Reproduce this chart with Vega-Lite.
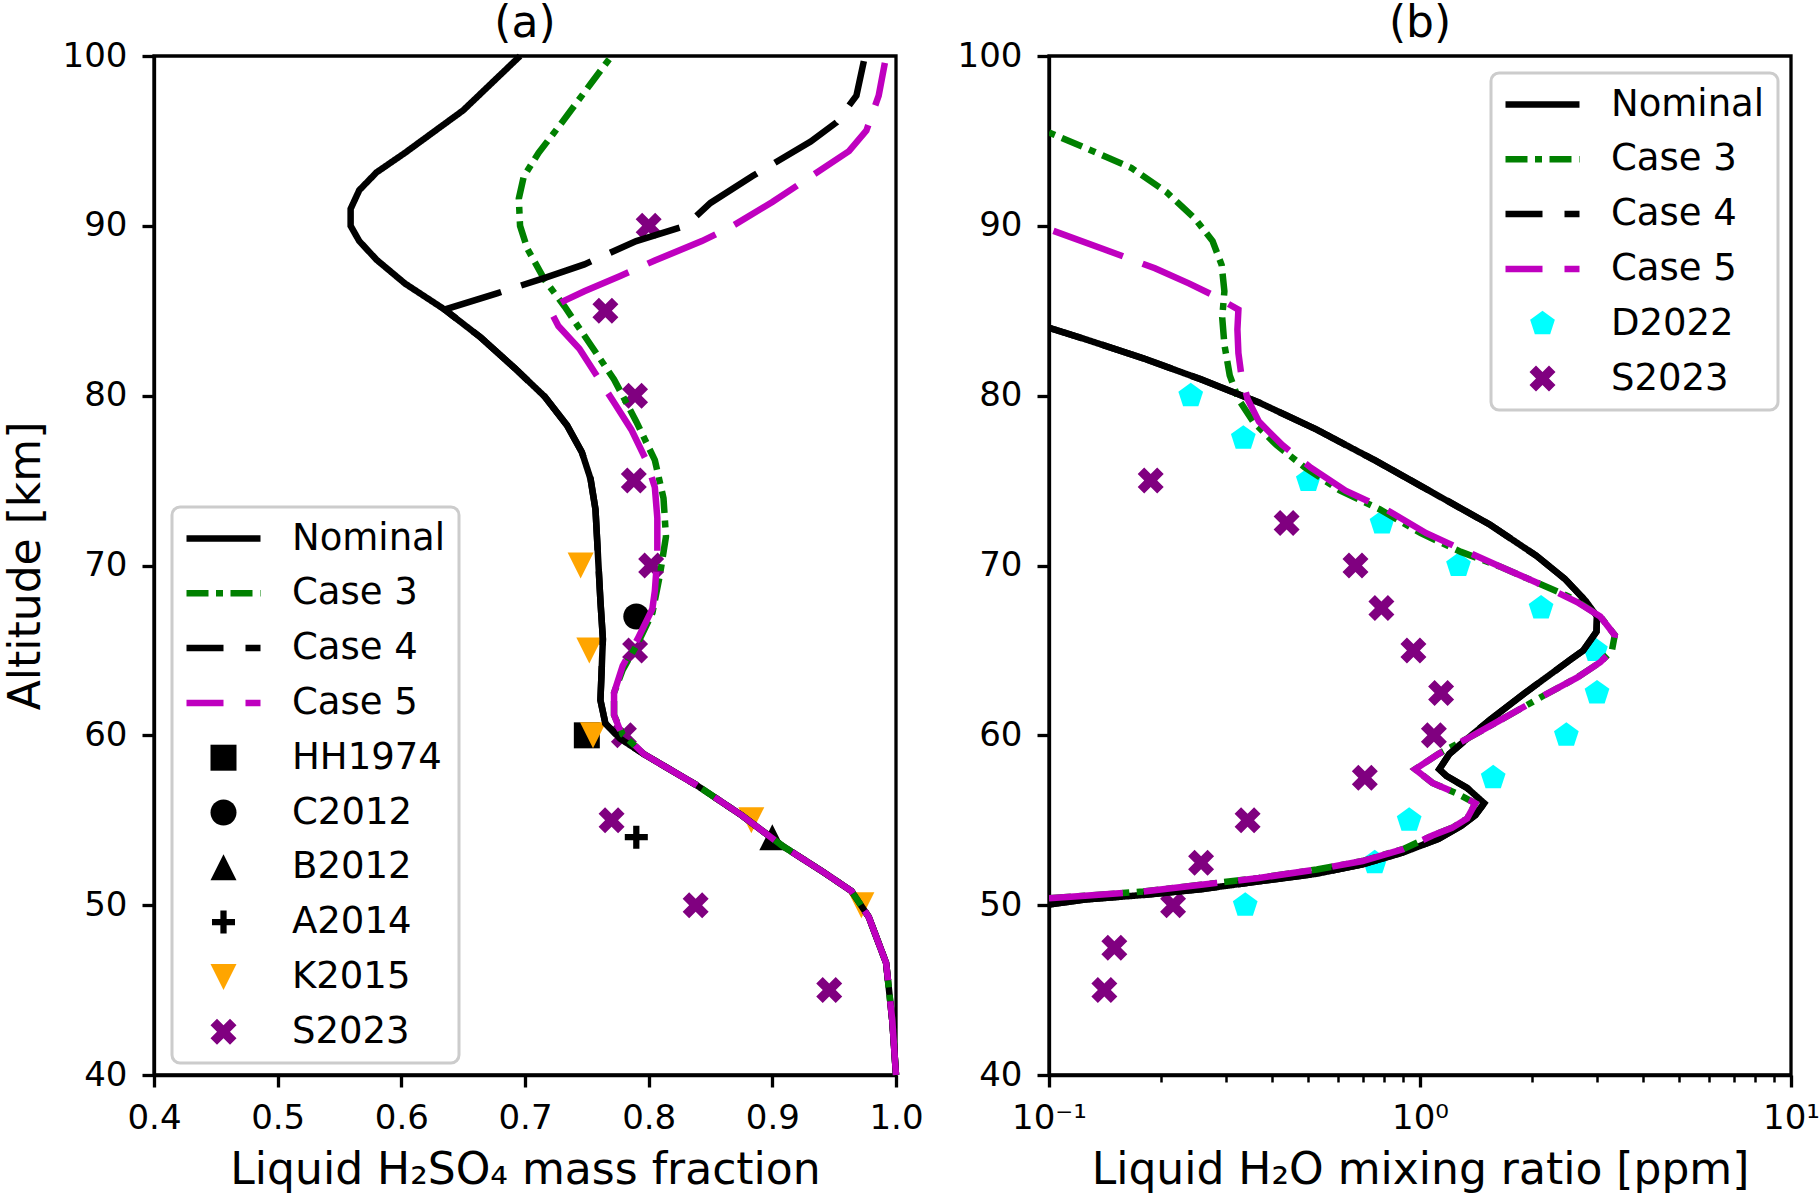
{
 "$schema": "https://vega.github.io/schema/vega-lite/v6.json",
 "padding": {"left": 2, "right": 5, "top": 0, "bottom": 0},
 "background": "white",
 "bounds": "flush",
 "spacing": 153,
 "resolve": {"scale": {"shape": "independent", "color": "independent", "strokeDash": "independent"}, "legend": {"shape": "independent", "color": "independent", "strokeDash": "independent"}},
 "config": {
  "font": "DejaVu Sans",
  "view": {"stroke": "black", "strokeWidth": 3.3},
  "axis": {"grid": false, "domainColor": "black", "domainWidth": 3.3, "tickColor": "black", "tickWidth": 3.3, "tickSize": 12, "labelFontSize": 34, "labelColor": "black", "labelPadding": 14, "titleFontSize": 44, "titleFontWeight": "normal", "titleColor": "black", "labelFont": "DejaVu Sans", "titleFont": "DejaVu Sans", "labelFlush": false},
  "title": {"fontSize": 44, "fontWeight": "normal", "color": "black", "baseline": "alphabetic", "offset": -7, "frame": "group", "font": "DejaVu Sans"},
  "legend": {"labelFontSize": 37, "labelColor": "black", "labelFont": "DejaVu Sans", "labelLimit": 0, "padding": 13, "symbolOffset": 20, "labelOffset": 50, "rowPadding": 16.8, "strokeColor": "#cccccc", "strokeWidth": 3, "fillColor": "white", "cornerRadius": 8, "symbolSize": 676, "orient": "none", "symbolOpacity": 1}
 },
 "datasets": {
  "obsA": [
   {"s": "HH1974", "x": 0.75, "y": 60},
   {"s": "C2012", "x": 0.79, "y": 67},
   {"s": "B2012", "x": 0.90, "y": 54},
   {"s": "A2014", "x": 0.79, "y": 54},
   {"s": "K2015", "x": 0.745, "y": 70},
   {"s": "K2015", "x": 0.752, "y": 65},
   {"s": "K2015", "x": 0.755, "y": 60},
   {"s": "K2015", "x": 0.883, "y": 55},
   {"s": "K2015", "x": 0.972, "y": 50},
   {"s": "S2023", "x": 0.80, "y": 90},
   {"s": "S2023", "x": 0.765, "y": 85},
   {"s": "S2023", "x": 0.789, "y": 80},
   {"s": "S2023", "x": 0.788, "y": 75},
   {"s": "S2023", "x": 0.802, "y": 70},
   {"s": "S2023", "x": 0.789, "y": 65},
   {"s": "S2023", "x": 0.780, "y": 60},
   {"s": "S2023", "x": 0.770, "y": 55},
   {"s": "S2023", "x": 0.838, "y": 50},
   {"s": "S2023", "x": 0.946, "y": 45}
  ],
  "curvesA": [
   {"s": "Nominal", "x": 0.696, "y": 100}, {"s": "Nominal", "x": 0.650, "y": 96.8}, {"s": "Nominal", "x": 0.603, "y": 94.3}, {"s": "Nominal", "x": 0.580, "y": 93.15}, {"s": "Nominal", "x": 0.566, "y": 92.1}, {"s": "Nominal", "x": 0.559, "y": 91.0}, {"s": "Nominal", "x": 0.559, "y": 90.0}, {"s": "Nominal", "x": 0.566, "y": 89.1}, {"s": "Nominal", "x": 0.580, "y": 88.0}, {"s": "Nominal", "x": 0.603, "y": 86.6}, {"s": "Nominal", "x": 0.635, "y": 85.07}, {"s": "Nominal", "x": 0.664, "y": 83.44}, {"s": "Nominal", "x": 0.692, "y": 81.6}, {"s": "Nominal", "x": 0.716, "y": 79.94}, {"s": "Nominal", "x": 0.734, "y": 78.25}, {"s": "Nominal", "x": 0.746, "y": 76.67}, {"s": "Nominal", "x": 0.753, "y": 75.1}, {"s": "Nominal", "x": 0.757, "y": 73.3}, {"s": "Nominal", "x": 0.759, "y": 70.6}, {"s": "Nominal", "x": 0.761, "y": 67.9}, {"s": "Nominal", "x": 0.763, "y": 65.66}, {"s": "Nominal", "x": 0.761, "y": 62.07}, {"s": "Nominal", "x": 0.765, "y": 60.7}, {"s": "Nominal", "x": 0.777, "y": 59.8}, {"s": "Nominal", "x": 0.796, "y": 58.9}, {"s": "Nominal", "x": 0.838, "y": 57.1}, {"s": "Nominal", "x": 0.875, "y": 55.3}, {"s": "Nominal", "x": 0.908, "y": 53.5}, {"s": "Nominal", "x": 0.941, "y": 51.96}, {"s": "Nominal", "x": 0.964, "y": 50.83}, {"s": "Nominal", "x": 0.978, "y": 49.3}, {"s": "Nominal", "x": 0.992, "y": 46.6}, {"s": "Nominal", "x": 0.997, "y": 43.2}, {"s": "Nominal", "x": 1.0, "y": 40},
   {"s": "Case 3", "x": 0.770, "y": 100}, {"s": "Case 3", "x": 0.753, "y": 98.35}, {"s": "Case 3", "x": 0.730, "y": 96.1}, {"s": "Case 3", "x": 0.711, "y": 94.3}, {"s": "Case 3", "x": 0.699, "y": 92.9}, {"s": "Case 3", "x": 0.695, "y": 91.6}, {"s": "Case 3", "x": 0.696, "y": 90.0}, {"s": "Case 3", "x": 0.702, "y": 88.64}, {"s": "Case 3", "x": 0.716, "y": 86.8}, {"s": "Case 3", "x": 0.732, "y": 85.25}, {"s": "Case 3", "x": 0.753, "y": 83.0}, {"s": "Case 3", "x": 0.772, "y": 80.96}, {"s": "Case 3", "x": 0.790, "y": 78.47}, {"s": "Case 3", "x": 0.805, "y": 76.2}, {"s": "Case 3", "x": 0.812, "y": 73.96}, {"s": "Case 3", "x": 0.814, "y": 71.7}, {"s": "Case 3", "x": 0.809, "y": 69.4}, {"s": "Case 3", "x": 0.803, "y": 67.2}, {"s": "Case 3", "x": 0.791, "y": 65.4}, {"s": "Case 3", "x": 0.779, "y": 63.86}, {"s": "Case 3", "x": 0.772, "y": 62.5}, {"s": "Case 3", "x": 0.772, "y": 61.2}, {"s": "Case 3", "x": 0.779, "y": 60.04}, {"s": "Case 3", "x": 0.796, "y": 58.9}, {"s": "Case 3", "x": 0.838, "y": 57.1}, {"s": "Case 3", "x": 0.875, "y": 55.3}, {"s": "Case 3", "x": 0.908, "y": 53.5}, {"s": "Case 3", "x": 0.941, "y": 51.96}, {"s": "Case 3", "x": 0.964, "y": 50.83}, {"s": "Case 3", "x": 0.978, "y": 49.3}, {"s": "Case 3", "x": 0.992, "y": 46.6}, {"s": "Case 3", "x": 0.997, "y": 43.2}, {"s": "Case 3", "x": 1.0, "y": 40},
   {"s": "Case 4", "x": 0.974, "y": 99.7}, {"s": "Case 4", "x": 0.968, "y": 97.67}, {"s": "Case 4", "x": 0.952, "y": 96.1}, {"s": "Case 4", "x": 0.931, "y": 94.96}, {"s": "Case 4", "x": 0.884, "y": 92.93}, {"s": "Case 4", "x": 0.850, "y": 91.35}, {"s": "Case 4", "x": 0.830, "y": 90.0}, {"s": "Case 4", "x": 0.790, "y": 89.1}, {"s": "Case 4", "x": 0.748, "y": 87.73}, {"s": "Case 4", "x": 0.716, "y": 86.94}, {"s": "Case 4", "x": 0.678, "y": 86.04}, {"s": "Case 4", "x": 0.635, "y": 85.07}, {"s": "Case 4", "x": 0.664, "y": 83.44}, {"s": "Case 4", "x": 0.692, "y": 81.6}, {"s": "Case 4", "x": 0.716, "y": 79.94}, {"s": "Case 4", "x": 0.734, "y": 78.25}, {"s": "Case 4", "x": 0.746, "y": 76.67}, {"s": "Case 4", "x": 0.753, "y": 75.1}, {"s": "Case 4", "x": 0.757, "y": 73.3}, {"s": "Case 4", "x": 0.759, "y": 70.6}, {"s": "Case 4", "x": 0.761, "y": 67.9}, {"s": "Case 4", "x": 0.763, "y": 65.66}, {"s": "Case 4", "x": 0.761, "y": 62.07}, {"s": "Case 4", "x": 0.765, "y": 60.7}, {"s": "Case 4", "x": 0.777, "y": 59.8}, {"s": "Case 4", "x": 0.796, "y": 58.9}, {"s": "Case 4", "x": 0.838, "y": 57.1}, {"s": "Case 4", "x": 0.875, "y": 55.3}, {"s": "Case 4", "x": 0.908, "y": 53.5}, {"s": "Case 4", "x": 0.941, "y": 51.96}, {"s": "Case 4", "x": 0.964, "y": 50.83}, {"s": "Case 4", "x": 0.978, "y": 49.3}, {"s": "Case 4", "x": 0.992, "y": 46.6}, {"s": "Case 4", "x": 0.997, "y": 43.2}, {"s": "Case 4", "x": 1.0, "y": 40},
   {"s": "Case 5", "x": 0.991, "y": 99.6}, {"s": "Case 5", "x": 0.986, "y": 97.67}, {"s": "Case 5", "x": 0.976, "y": 95.6}, {"s": "Case 5", "x": 0.962, "y": 94.4}, {"s": "Case 5", "x": 0.931, "y": 92.9}, {"s": "Case 5", "x": 0.900, "y": 91.4}, {"s": "Case 5", "x": 0.868, "y": 90.0}, {"s": "Case 5", "x": 0.843, "y": 89.1}, {"s": "Case 5", "x": 0.805, "y": 87.96}, {"s": "Case 5", "x": 0.777, "y": 87.05}, {"s": "Case 5", "x": 0.748, "y": 86.15}, {"s": "Case 5", "x": 0.732, "y": 85.6}, {"s": "Case 5", "x": 0.720, "y": 85.07}, {"s": "Case 5", "x": 0.727, "y": 84.1}, {"s": "Case 5", "x": 0.744, "y": 82.76}, {"s": "Case 5", "x": 0.772, "y": 79.6}, {"s": "Case 5", "x": 0.786, "y": 78.0}, {"s": "Case 5", "x": 0.798, "y": 76.2}, {"s": "Case 5", "x": 0.805, "y": 74.6}, {"s": "Case 5", "x": 0.807, "y": 72.8}, {"s": "Case 5", "x": 0.807, "y": 70.56}, {"s": "Case 5", "x": 0.805, "y": 68.5}, {"s": "Case 5", "x": 0.803, "y": 67.45}, {"s": "Case 5", "x": 0.791, "y": 65.66}, {"s": "Case 5", "x": 0.779, "y": 64.1}, {"s": "Case 5", "x": 0.772, "y": 62.5}, {"s": "Case 5", "x": 0.772, "y": 61.2}, {"s": "Case 5", "x": 0.777, "y": 60.27}, {"s": "Case 5", "x": 0.796, "y": 58.9}, {"s": "Case 5", "x": 0.838, "y": 57.1}, {"s": "Case 5", "x": 0.875, "y": 55.3}, {"s": "Case 5", "x": 0.908, "y": 53.5}, {"s": "Case 5", "x": 0.941, "y": 51.96}, {"s": "Case 5", "x": 0.964, "y": 50.83}, {"s": "Case 5", "x": 0.978, "y": 49.3}, {"s": "Case 5", "x": 0.992, "y": 46.6}, {"s": "Case 5", "x": 0.997, "y": 43.2}, {"s": "Case 5", "x": 1.0, "y": 40}
  ],
  "obsB": [
   {"s": "D2022", "x": 0.241, "y": 80}, {"s": "D2022", "x": 0.334, "y": 77.5}, {"s": "D2022", "x": 0.50, "y": 75}, {"s": "D2022", "x": 0.79, "y": 72.5}, {"s": "D2022", "x": 1.27, "y": 70}, {"s": "D2022", "x": 2.12, "y": 67.5}, {"s": "D2022", "x": 2.97, "y": 65}, {"s": "D2022", "x": 3.0, "y": 62.5}, {"s": "D2022", "x": 2.48, "y": 60}, {"s": "D2022", "x": 1.575, "y": 57.5}, {"s": "D2022", "x": 0.935, "y": 55}, {"s": "D2022", "x": 0.755, "y": 52.5}, {"s": "D2022", "x": 0.338, "y": 50},
   {"s": "S2023", "x": 0.188, "y": 75}, {"s": "S2023", "x": 0.437, "y": 72.5}, {"s": "S2023", "x": 0.67, "y": 70}, {"s": "S2023", "x": 0.787, "y": 67.5}, {"s": "S2023", "x": 0.96, "y": 65}, {"s": "S2023", "x": 1.14, "y": 62.5}, {"s": "S2023", "x": 1.09, "y": 60}, {"s": "S2023", "x": 0.71, "y": 57.5}, {"s": "S2023", "x": 0.343, "y": 55}, {"s": "S2023", "x": 0.257, "y": 52.5}, {"s": "S2023", "x": 0.216, "y": 50}, {"s": "S2023", "x": 0.150, "y": 47.5}, {"s": "S2023", "x": 0.141, "y": 45}
  ],
  "curvesB": [
   {"s": "Nominal", "x": 0.1, "y": 84.0}, {"s": "Nominal", "x": 0.125, "y": 83.33}, {"s": "Nominal", "x": 0.1795, "y": 82.2}, {"s": "Nominal", "x": 0.257, "y": 80.96}, {"s": "Nominal", "x": 0.368, "y": 79.6}, {"s": "Nominal", "x": 0.527, "y": 78.0}, {"s": "Nominal", "x": 0.755, "y": 76.2}, {"s": "Nominal", "x": 1.08, "y": 74.3}, {"s": "Nominal", "x": 1.545, "y": 72.4}, {"s": "Nominal", "x": 2.06, "y": 70.57}, {"s": "Nominal", "x": 2.46, "y": 69.2}, {"s": "Nominal", "x": 2.80, "y": 67.9}, {"s": "Nominal", "x": 3.0, "y": 67.0}, {"s": "Nominal", "x": 2.99, "y": 66.1}, {"s": "Nominal", "x": 2.75, "y": 64.98}, {"s": "Nominal", "x": 2.56, "y": 64.5}, {"s": "Nominal", "x": 1.92, "y": 62.5}, {"s": "Nominal", "x": 1.55, "y": 60.94}, {"s": "Nominal", "x": 1.34, "y": 59.8}, {"s": "Nominal", "x": 1.20, "y": 58.9}, {"s": "Nominal", "x": 1.127, "y": 58.0}, {"s": "Nominal", "x": 1.18, "y": 57.6}, {"s": "Nominal", "x": 1.34, "y": 56.9}, {"s": "Nominal", "x": 1.49, "y": 56.0}, {"s": "Nominal", "x": 1.41, "y": 55.3}, {"s": "Nominal", "x": 1.29, "y": 54.66}, {"s": "Nominal", "x": 1.12, "y": 53.9}, {"s": "Nominal", "x": 0.90, "y": 53.1}, {"s": "Nominal", "x": 0.70, "y": 52.4}, {"s": "Nominal", "x": 0.527, "y": 51.85}, {"s": "Nominal", "x": 0.368, "y": 51.4}, {"s": "Nominal", "x": 0.257, "y": 50.94}, {"s": "Nominal", "x": 0.1795, "y": 50.6}, {"s": "Nominal", "x": 0.125, "y": 50.33}, {"s": "Nominal", "x": 0.1, "y": 50.04},
   {"s": "Case 3", "x": 0.1, "y": 95.5}, {"s": "Case 3", "x": 0.125, "y": 94.6}, {"s": "Case 3", "x": 0.167, "y": 93.4}, {"s": "Case 3", "x": 0.207, "y": 92.0}, {"s": "Case 3", "x": 0.248, "y": 90.4}, {"s": "Case 3", "x": 0.276, "y": 89.1}, {"s": "Case 3", "x": 0.292, "y": 87.7}, {"s": "Case 3", "x": 0.297, "y": 86.15}, {"s": "Case 3", "x": 0.293, "y": 84.6}, {"s": "Case 3", "x": 0.297, "y": 83.0}, {"s": "Case 3", "x": 0.307, "y": 81.2}, {"s": "Case 3", "x": 0.324, "y": 79.8}, {"s": "Case 3", "x": 0.355, "y": 78.47}, {"s": "Case 3", "x": 0.41, "y": 77.1}, {"s": "Case 3", "x": 0.49, "y": 75.76}, {"s": "Case 3", "x": 0.61, "y": 74.4}, {"s": "Case 3", "x": 0.78, "y": 73.3}, {"s": "Case 3", "x": 1.005, "y": 71.9}, {"s": "Case 3", "x": 1.29, "y": 70.8}, {"s": "Case 3", "x": 1.66, "y": 69.9}, {"s": "Case 3", "x": 2.06, "y": 69.0}, {"s": "Case 3", "x": 2.56, "y": 68.1}, {"s": "Case 3", "x": 3.06, "y": 67.0}, {"s": "Case 3", "x": 3.35, "y": 65.9}, {"s": "Case 3", "x": 3.29, "y": 64.98}, {"s": "Case 3", "x": 3.06, "y": 64.3}, {"s": "Case 3", "x": 2.65, "y": 63.4}, {"s": "Case 3", "x": 2.14, "y": 62.3}, {"s": "Case 3", "x": 1.66, "y": 60.94}, {"s": "Case 3", "x": 1.34, "y": 59.8}, {"s": "Case 3", "x": 1.12, "y": 58.9}, {"s": "Case 3", "x": 0.97, "y": 58.0}, {"s": "Case 3", "x": 1.08, "y": 57.2}, {"s": "Case 3", "x": 1.25, "y": 56.6}, {"s": "Case 3", "x": 1.41, "y": 56.0}, {"s": "Case 3", "x": 1.34, "y": 55.1}, {"s": "Case 3", "x": 1.22, "y": 54.55}, {"s": "Case 3", "x": 1.08, "y": 54.1}, {"s": "Case 3", "x": 0.90, "y": 53.3}, {"s": "Case 3", "x": 0.70, "y": 52.6}, {"s": "Case 3", "x": 0.527, "y": 52.1}, {"s": "Case 3", "x": 0.368, "y": 51.6}, {"s": "Case 3", "x": 0.257, "y": 51.2}, {"s": "Case 3", "x": 0.1795, "y": 50.8}, {"s": "Case 3", "x": 0.125, "y": 50.55}, {"s": "Case 3", "x": 0.1, "y": 50.4},
   {"s": "Case 4", "x": 0.1, "y": 84.0}, {"s": "Case 4", "x": 0.125, "y": 83.33}, {"s": "Case 4", "x": 0.1795, "y": 82.2}, {"s": "Case 4", "x": 0.257, "y": 80.96}, {"s": "Case 4", "x": 0.368, "y": 79.6}, {"s": "Case 4", "x": 0.527, "y": 78.0}, {"s": "Case 4", "x": 0.755, "y": 76.2}, {"s": "Case 4", "x": 1.08, "y": 74.3}, {"s": "Case 4", "x": 1.545, "y": 72.4}, {"s": "Case 4", "x": 2.06, "y": 70.57}, {"s": "Case 4", "x": 2.46, "y": 69.2}, {"s": "Case 4", "x": 2.80, "y": 67.9}, {"s": "Case 4", "x": 3.0, "y": 67.0}, {"s": "Case 4", "x": 2.99, "y": 66.1}, {"s": "Case 4", "x": 2.75, "y": 64.98}, {"s": "Case 4", "x": 2.56, "y": 64.5}, {"s": "Case 4", "x": 1.92, "y": 62.5}, {"s": "Case 4", "x": 1.55, "y": 60.94}, {"s": "Case 4", "x": 1.34, "y": 59.8}, {"s": "Case 4", "x": 1.20, "y": 58.9}, {"s": "Case 4", "x": 1.127, "y": 58.0}, {"s": "Case 4", "x": 1.18, "y": 57.6}, {"s": "Case 4", "x": 1.34, "y": 56.9}, {"s": "Case 4", "x": 1.49, "y": 56.0}, {"s": "Case 4", "x": 1.41, "y": 55.3}, {"s": "Case 4", "x": 1.29, "y": 54.66}, {"s": "Case 4", "x": 1.12, "y": 53.9}, {"s": "Case 4", "x": 0.90, "y": 53.1}, {"s": "Case 4", "x": 0.70, "y": 52.4}, {"s": "Case 4", "x": 0.527, "y": 51.85}, {"s": "Case 4", "x": 0.368, "y": 51.4}, {"s": "Case 4", "x": 0.257, "y": 50.94}, {"s": "Case 4", "x": 0.1795, "y": 50.6}, {"s": "Case 4", "x": 0.125, "y": 50.33}, {"s": "Case 4", "x": 0.1, "y": 50.04},
   {"s": "Case 5", "x": 0.1, "y": 89.8}, {"s": "Case 5", "x": 0.14, "y": 88.64}, {"s": "Case 5", "x": 0.193, "y": 87.5}, {"s": "Case 5", "x": 0.239, "y": 86.6}, {"s": "Case 5", "x": 0.276, "y": 85.93}, {"s": "Case 5", "x": 0.324, "y": 85.07}, {"s": "Case 5", "x": 0.322, "y": 83.9}, {"s": "Case 5", "x": 0.324, "y": 82.5}, {"s": "Case 5", "x": 0.330, "y": 81.2}, {"s": "Case 5", "x": 0.343, "y": 79.8}, {"s": "Case 5", "x": 0.368, "y": 78.47}, {"s": "Case 5", "x": 0.425, "y": 77.1}, {"s": "Case 5", "x": 0.508, "y": 75.76}, {"s": "Case 5", "x": 0.63, "y": 74.4}, {"s": "Case 5", "x": 0.81, "y": 73.3}, {"s": "Case 5", "x": 1.04, "y": 71.9}, {"s": "Case 5", "x": 1.34, "y": 70.8}, {"s": "Case 5", "x": 1.66, "y": 69.9}, {"s": "Case 5", "x": 2.06, "y": 69.0}, {"s": "Case 5", "x": 2.65, "y": 67.85}, {"s": "Case 5", "x": 3.06, "y": 67.0}, {"s": "Case 5", "x": 3.35, "y": 65.9}, {"s": "Case 5", "x": 3.29, "y": 64.98}, {"s": "Case 5", "x": 3.06, "y": 64.3}, {"s": "Case 5", "x": 2.65, "y": 63.4}, {"s": "Case 5", "x": 2.14, "y": 62.3}, {"s": "Case 5", "x": 1.66, "y": 60.94}, {"s": "Case 5", "x": 1.34, "y": 59.8}, {"s": "Case 5", "x": 1.12, "y": 58.9}, {"s": "Case 5", "x": 0.97, "y": 58.0}, {"s": "Case 5", "x": 1.08, "y": 57.2}, {"s": "Case 5", "x": 1.25, "y": 56.6}, {"s": "Case 5", "x": 1.41, "y": 56.0}, {"s": "Case 5", "x": 1.34, "y": 55.1}, {"s": "Case 5", "x": 1.22, "y": 54.55}, {"s": "Case 5", "x": 1.08, "y": 54.1}, {"s": "Case 5", "x": 0.90, "y": 53.3}, {"s": "Case 5", "x": 0.70, "y": 52.6}, {"s": "Case 5", "x": 0.527, "y": 52.1}, {"s": "Case 5", "x": 0.368, "y": 51.6}, {"s": "Case 5", "x": 0.257, "y": 51.2}, {"s": "Case 5", "x": 0.1795, "y": 50.8}, {"s": "Case 5", "x": 0.125, "y": 50.55}, {"s": "Case 5", "x": 0.1, "y": 50.4}
  ]
 },
 "hconcat": [
  {
   "width": 742, "height": 1019,
   "title": "(a)",
   "encoding": {
    "x": {"field": "x", "type": "quantitative", "scale": {"domain": [0.4, 1.0], "nice": false, "zero": false}, "axis": {"values": [0.4, 0.5, 0.6, 0.7, 0.8, 0.9, 1.0], "format": ".1f", "title": "Liquid H₂SO₄ mass fraction", "labelFontSize": 34, "tickSize": 12, "labelPadding": 14, "titlePadding": 13, "labelFlush": false}},
    "y": {"field": "y", "type": "quantitative", "scale": {"domain": [40, 100], "nice": false, "zero": false}, "axis": {"values": [40, 50, 60, 70, 80, 90, 100], "title": "Altitude [km]", "labelFontSize": 34, "tickSize": 12, "labelPadding": 15, "titlePadding": 14}}
   },
   "layer": [
    {
     "data": {"name": "obsA"},
     "mark": {"type": "point", "filled": true, "opacity": 1, "size": 676},
     "encoding": {
      "shape": {"field": "s", "type": "nominal",
       "scale": {"domain": ["Nominal", "Case 3", "Case 4", "Case 5", "HH1974", "C2012", "B2012", "A2014", "K2015", "S2023"],
                 "range": ["M-2.846,0H2.846", "M-2.846,0H2.846", "M-2.846,0H2.846", "M-2.846,0H2.846", "square", "circle", "M0,-1L1,1L-1,1Z", "M-0.24,-0.885H0.24V-0.24H0.885V0.24H0.24V0.885H-0.24V0.24H-0.885V-0.24H-0.24Z", "M0,1L1,-1L-1,-1Z", "M0.5,-1L1,-0.5L0.5,0L1,0.5L0.5,1L0,0.5L-0.5,1L-1,0.5L-0.5,0L-1,-0.5L-0.5,-1L0,-0.5Z"]},
       "legend": {"title": null, "orient": "none", "legendX": 18, "legendY": 451,
        "symbolFillColor": {"expr": "indexof(['Nominal','Case 3','Case 4','Case 5'], datum.value) >= 0 ? 'transparent' : ['#000000','#008000','#000000','#bf00bf','#000000','#000000','#000000','#000000','#ffa500','#800080'][indexof(['Nominal','Case 3','Case 4','Case 5','HH1974','C2012','B2012','A2014','K2015','S2023'], datum.value)]"},
        "symbolStrokeColor": {"expr": "['#000000','#008000','#000000','#bf00bf','#000000','#000000','#000000','#000000','#ffa500','#800080'][indexof(['Nominal','Case 3','Case 4','Case 5','HH1974','C2012','B2012','A2014','K2015','S2023'], datum.value)]"},
        "symbolStrokeWidth": {"expr": "indexof(['Nominal','Case 3','Case 4','Case 5'], datum.value) >= 0 ? 6.5 : 0"},
        "symbolDash": {"expr": "datum.value == 'Case 3' ? [22,7.5,7,7.5] : (datum.value == 'Case 4' || datum.value == 'Case 5') ? [37,22] : [1,0]"}
       }
      },
      "color": {"field": "s", "type": "nominal",
       "scale": {"domain": ["S2023", "K2015", "A2014", "B2012", "C2012", "HH1974", "Case 5", "Case 4", "Case 3", "Nominal"],
                 "range": ["#800080", "#ffa500", "#000000", "#000000", "#000000", "#000000", "#bf00bf", "#000000", "#008000", "#000000"]},
       "legend": null}
     }
    },
    {
     "data": {"name": "curvesA"},
     "mark": {"type": "line", "strokeWidth": 6.5},
     "encoding": {
      "order": {"field": "y", "type": "quantitative"},
      "color": {"field": "s", "type": "nominal",
       "scale": {"domain": ["S2023", "K2015", "A2014", "B2012", "C2012", "HH1974", "Case 5", "Case 4", "Case 3", "Nominal"],
                 "range": ["#800080", "#ffa500", "#000000", "#000000", "#000000", "#000000", "#bf00bf", "#000000", "#008000", "#000000"]},
       "legend": null},
      "strokeDash": {"field": "s", "type": "nominal", "scale": {"domain": ["Nominal", "Case 3", "Case 4", "Case 5"], "range": [[1, 0], [22, 7.5, 7, 7.5], [74, 21], [74, 21]]}, "legend": null}
     }
    }
   ]
  },
  {
   "width": 742, "height": 1019,
   "title": "(b)",
   "encoding": {
    "x": {"field": "x", "type": "quantitative", "scale": {"type": "log", "domain": [0.1, 10], "nice": false},
     "axis": {"values": [0.1, 0.2, 0.3, 0.4, 0.5, 0.6, 0.7, 0.8, 0.9, 1, 2, 3, 4, 5, 6, 7, 8, 9, 10],
      "labelExpr": "datum.value == 0.1 ? '10⁻¹' : datum.value == 1 ? '10⁰' : datum.value == 10 ? '10¹' : ''",
      "labelOverlap": false, "labelFlush": false, "labelFontSize": 34, "labelPadding": 14, "titlePadding": 13,
      "tickSize": {"condition": {"test": "datum.value == 0.1 || datum.value == 1 || datum.value == 10", "value": 12}, "value": 7},
      "tickWidth": {"condition": {"test": "datum.value == 0.1 || datum.value == 1 || datum.value == 10", "value": 3.3}, "value": 2.5},
      "title": "Liquid H₂O mixing ratio [ppm]"}},
    "y": {"field": "y", "type": "quantitative", "scale": {"domain": [40, 100], "nice": false, "zero": false}, "axis": {"values": [40, 50, 60, 70, 80, 90, 100], "title": null, "labelFontSize": 34, "tickSize": 12, "labelPadding": 15}}
   },
   "layer": [
    {
     "data": {"name": "obsB"},
     "mark": {"type": "point", "filled": true, "opacity": 1, "size": 676},
     "encoding": {
      "shape": {"field": "s", "type": "nominal",
       "scale": {"domain": ["Nominal", "Case 3", "Case 4", "Case 5", "D2022", "S2023"],
                 "range": ["M-2.846,0H2.846", "M-2.846,0H2.846", "M-2.846,0H2.846", "M-2.846,0H2.846", "M0,-1L0.951,-0.309L0.588,0.809L-0.588,0.809L-0.951,-0.309Z", "M0.5,-1L1,-0.5L0.5,0L1,0.5L0.5,1L0,0.5L-0.5,1L-1,0.5L-0.5,0L-1,-0.5L-0.5,-1L0,-0.5Z"]},
       "legend": {"title": null, "orient": "none", "legendX": 442, "legendY": 17,
        "symbolFillColor": {"expr": "indexof(['Nominal','Case 3','Case 4','Case 5'], datum.value) >= 0 ? 'transparent' : ['#000000','#008000','#000000','#bf00bf','#00ffff','#800080'][indexof(['Nominal','Case 3','Case 4','Case 5','D2022','S2023'], datum.value)]"},
        "symbolStrokeColor": {"expr": "['#000000','#008000','#000000','#bf00bf','#00ffff','#800080'][indexof(['Nominal','Case 3','Case 4','Case 5','D2022','S2023'], datum.value)]"},
        "symbolStrokeWidth": {"expr": "indexof(['Nominal','Case 3','Case 4','Case 5'], datum.value) >= 0 ? 6.5 : 0"},
        "symbolDash": {"expr": "datum.value == 'Case 3' ? [22,7.5,7,7.5] : (datum.value == 'Case 4' || datum.value == 'Case 5') ? [37,22] : [1,0]"}
       }
      },
      "color": {"field": "s", "type": "nominal",
       "scale": {"domain": ["S2023", "D2022", "Case 5", "Case 4", "Case 3", "Nominal"],
                 "range": ["#800080", "#00ffff", "#bf00bf", "#000000", "#008000", "#000000"]},
       "legend": null}
     }
    },
    {
     "data": {"name": "curvesB"},
     "mark": {"type": "line", "strokeWidth": 6.5, "clip": true},
     "encoding": {
      "order": {"field": "y", "type": "quantitative"},
      "color": {"field": "s", "type": "nominal",
       "scale": {"domain": ["S2023", "D2022", "Case 5", "Case 4", "Case 3", "Nominal"],
                 "range": ["#800080", "#00ffff", "#bf00bf", "#000000", "#008000", "#000000"]},
       "legend": null},
      "strokeDash": {"field": "s", "type": "nominal", "scale": {"domain": ["Nominal", "Case 3", "Case 4", "Case 5"], "range": [[1, 0], [22, 7.5, 7, 7.5], [74, 21], [74, 21]]}, "legend": null}
     }
    }
   ]
  }
 ]
}
